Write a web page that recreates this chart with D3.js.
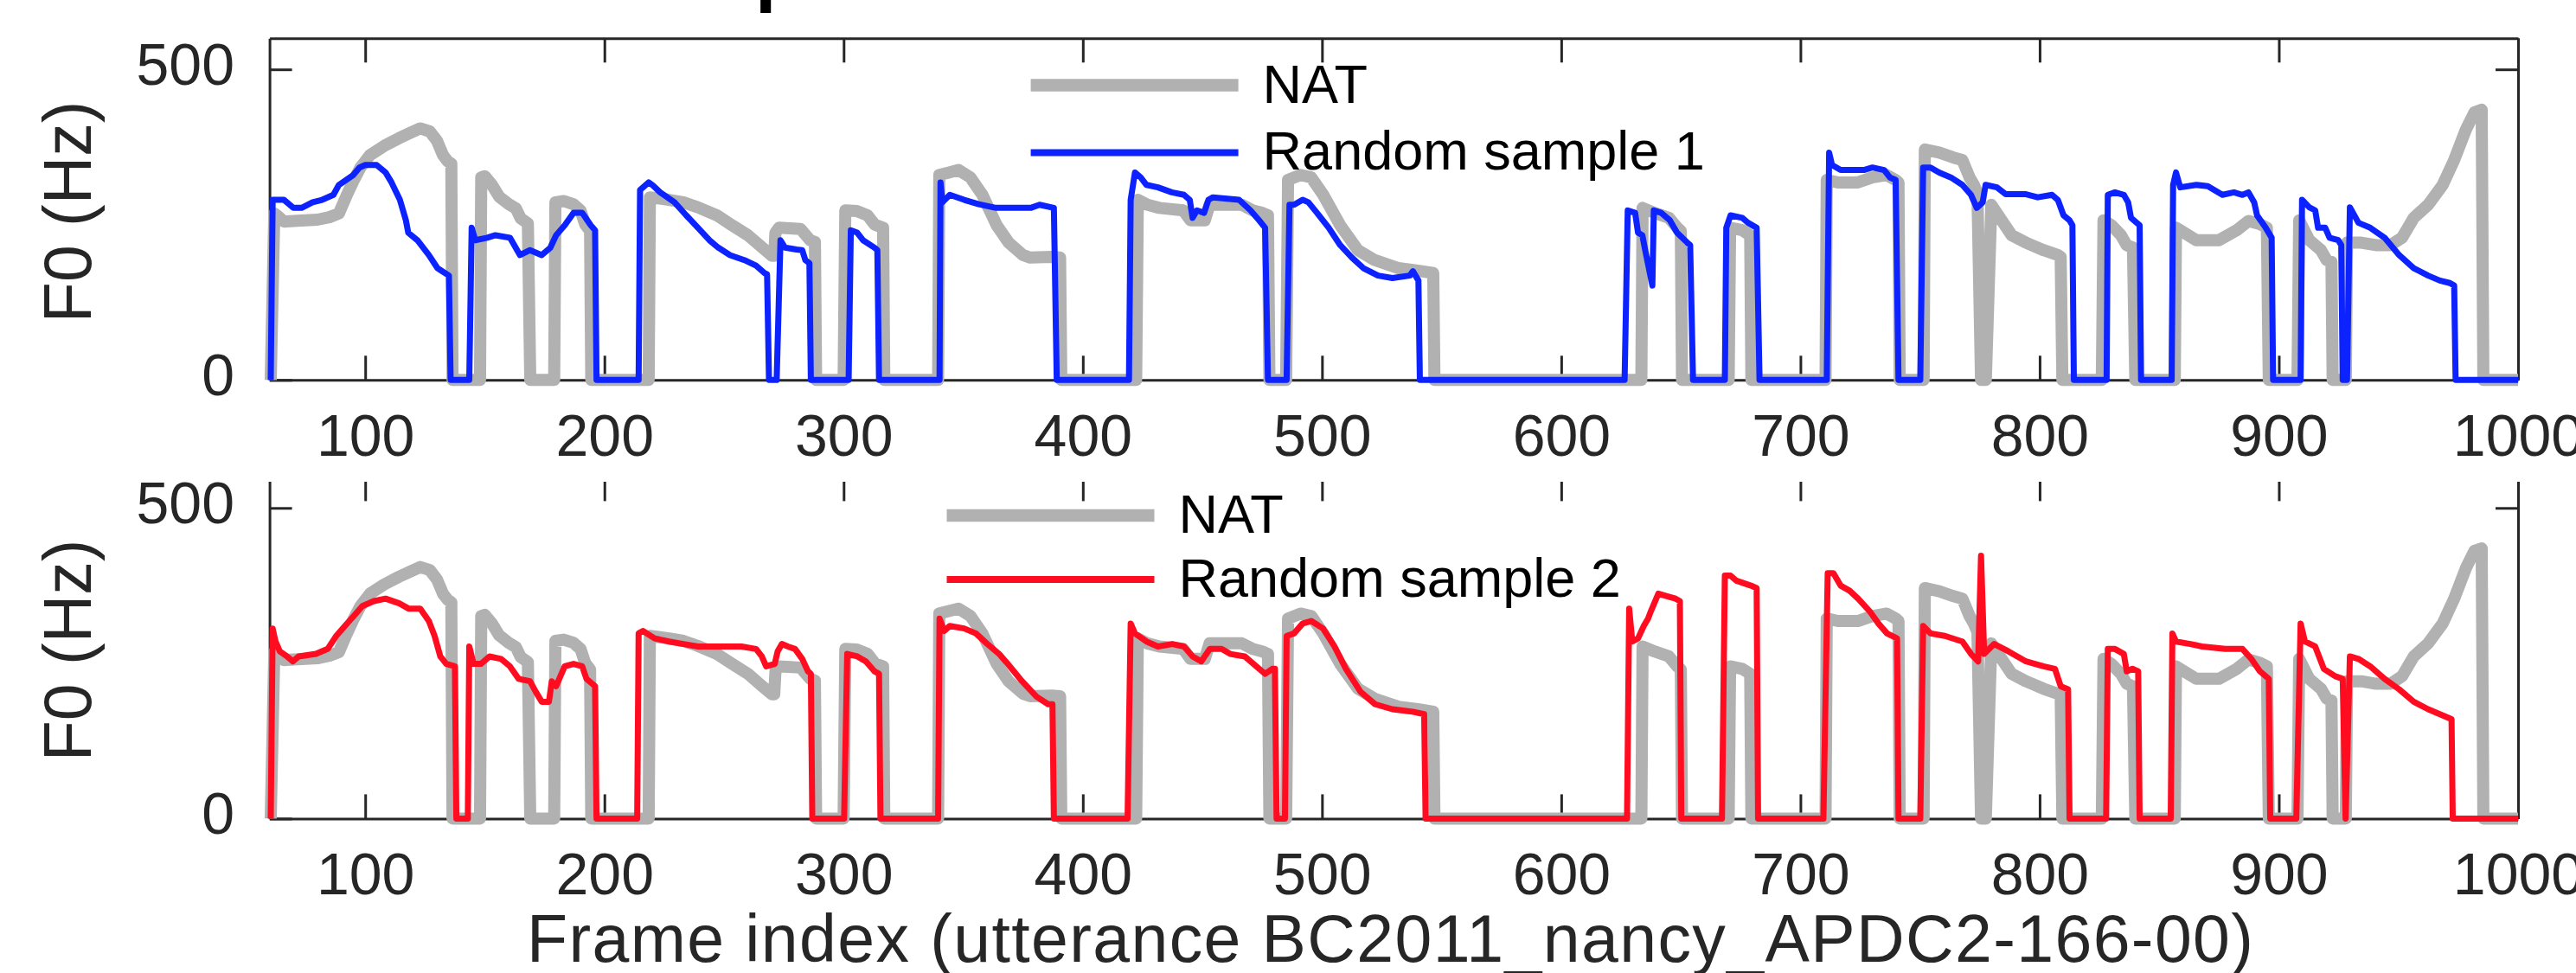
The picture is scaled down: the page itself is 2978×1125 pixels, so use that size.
<!DOCTYPE html>
<html>
<head>
<meta charset="utf-8">
<script src="https://cdnjs.cloudflare.com/ajax/libs/d3/7.8.5/d3.min.js"></script>
<style>
  body { margin: 0; background: #fff; }
  svg { display: block; font-family: "Liberation Sans", Arial, sans-serif; }
</style>
</head>
<body>
<svg id="chart"></svg>
<script>
// ---- data ----
const frameTicks = [100, 200, 300, 400, 500, 600, 700, 800, 900, 1000];
const f0Ticks = [0, 500];
const xLabel = 'Frame index (utterance BC2011_nancy_APDC2-166-00)';
const yLabel = 'F0 (Hz)';

// natural F0 contour [frame, Hz]
const natF0 = [
  [60.5,0],[62,268],[64,262],[66,255],[70,256],[80,258],[85,262],[89,268],[92,295],[95,320],[98,342],[102,362],[108,377],[114,389],[119,398],[123,405],[127,400],[130,385],[132.5,362],[134.5,352],[136,348],[136.5,0],
  [148,0],[148.5,326],[150,328],[153,314],[156,295],[160,283],[163,276],[165,260],[168,252],[169,0],
  [179,0],[179.5,286],[183,288],[187,283],[190,273],[192,250],[194,240],[194.5,0],
  [218.5,0],[219,294],[227,290],[233,286],[239,278],[247,265],[253,250],[260,233],[266,213],[270,200],[271,200],[271.5,237],[273,245],[282,243],[286,225],[288,222],[288.5,0],
  [300,0],[300.7,273],[305.5,272],[310,265],[313,250],[316.5,245],[317,0],
  [339.5,0],[340,330],[344,334],[348,338],[353,326],[358,298],[364,249],[369,221],[375,201],[378,197],[387,198],[390.5,197],[391,0],
  [422.3,0],[423,290],[427,282],[432,277],[442,273],[445,257],[451,257],[453,282],[466.5,282],[471,273],[475,269],[477.4,265],[478,0],
  [485,0],[485.8,322],[491,330],[495.5,326],[500.5,298],[507.6,249],[515,209],[522,193],[532,180],[540,176],[546.5,172],[547,0],
  [633.5,0],[634,277],[639,269],[645,261],[648.5,245],[650,240],[650.5,0],
  [670,0],[670.6,245],[675.7,241],[679,233],[679.5,0],
  [710.5,0],[711,322],[715.6,318],[724,318],[730,326],[736,330],[739.8,322],[741,318],[741.5,0],
  [751.5,0],[752,371],[758,366],[764,358],[767.7,354],[770.7,326],[772.5,314],[774,300],[775.5,0],[777.5,0],[779.8,282],[783.4,261],[788.3,233],[794.3,221],[801.6,209],[807.6,201],[808.8,198],[809.5,0],
  [826,0],[826.7,257],[830,249],[834,233],[836.4,217],[839,213],[840,0],
  [856.5,0],[857,245],[865.5,225],[875,225],[882.4,241],[887.3,256],[892,251],[895,245],[895.8,0],
  [907.8,0],[908.5,257],[912.7,225],[917.6,209],[920,193],[922,190],[922.5,0],
  [928,0],[928.5,221],[934.5,221],[940.6,217],[946.7,217],[951.5,229],[956.4,261],[962.4,282],[968.5,314],[973.3,354],[978.2,403],[981.8,431],[984.8,435],[985.5,0],[1000,0]
];

// random sample 1 [frame, Hz]
const sample1F0 = [
  [60.5,0],[61.3,290],[66,290],[70,277],[73.4,277],[78,286],[82,290],[86.7,298],[89,314],[95,330],[97.6,342],[100,346],[104.8,346],[108.5,334],[111,318],[114.5,290],[117,257],[118,237],[121.8,225],[126.6,201],[130.2,180],[135,168],[135.7,0],
  [143.5,0],[144.5,245],[146,225],[151,229],[154.4,233],[160.5,229],[164.7,201],[168.9,209],[173.8,201],[177.4,213],[179.8,233],[183.4,249],[187.1,269],[190.7,269],[194.3,249],[196.1,241],[196.7,0],
  [214.3,0],[214.9,306],[218.5,318],[220,314],[223.3,302],[229.3,286],[234.2,265],[239.1,245],[243.9,225],[247.6,213],[252.5,201],[258.5,193],[263.4,184],[267,172],[268,170],[268.8,0],
  [272,0],[273.6,225],[275.5,213],[280.3,210],[282.7,209],[284,193],[285.7,188],[286.3,0],
  [302.1,0],[303,241],[305.7,237],[308.1,225],[312.9,213],[314.1,209],[314.8,0],
  [340.1,0],[340.5,318],[341.3,286],[344.4,298],[350.4,290],[356.5,283],[363.7,277],[378.2,277],[381.9,282],[387.9,277],[389.1,0],
  [419.3,0],[420,290],[421.8,334],[424.2,326],[426.6,314],[431.4,310],[437.2,302],[442.3,298],[444.7,290],[445.9,261],[447.7,273],[450.7,269],[452.5,290],[454.4,294],[465.3,290],[470.1,273],[473.7,257],[476.2,245],[477.4,0],
  [485.2,0],[486.4,282],[488.3,282],[491.9,290],[494.3,286],[497.9,269],[502.8,245],[507.6,217],[512.5,197],[517.3,180],[523.4,168],[529.4,164],[536.7,168],[538,175],[540.3,160],[540.9,0],
  [626.5,0],[627.8,273],[630.9,269],[632.1,237],[633.9,233],[635.1,209],[638.1,152],[638.7,273],[641.8,269],[645.4,257],[648.4,237],[652.7,221],[653.9,217],[655.1,0],
  [668.4,0],[669,245],[670.8,265],[675.7,261],[678.1,253],[681.7,245],[682.9,0],
  [711,0],[712,366],[713.2,346],[716.8,338],[726.5,338],[730.1,342],[735,338],[737.4,326],[739.8,322],[741,0],
  [750.1,0],[751.3,342],[754.4,342],[758,334],[762.9,326],[767.7,314],[771.3,298],[773.7,277],[776.2,286],[777.4,314],[782.2,310],[785.8,299],[794.3,299],[799.2,294],[805.2,298],[807.6,290],[810,265],[812.5,257],[813.7,249],[814.3,0],
  [828,0],[828.5,298],[831.5,302],[835.2,298],[837,286],[838.2,261],[840.6,253],[841.8,249],[842.4,0],
  [855.2,0],[855.8,314],[857,334],[858.8,310],[865.5,314],[870.3,312],[876.4,298],[881.2,302],[884.8,298],[887.3,302],[889.7,286],[890.9,265],[894.5,245],[897,229],[897.6,0],
  [909.1,0],[909.7,290],[912.7,278],[915.2,273],[916.4,245],[919.4,245],[921.2,229],[924.8,225],[926.1,217],[926.7,0],[928.5,0],
  [929.7,278],[933.3,253],[938.2,245],[944.2,229],[950.3,201],[956.4,180],[962.4,168],[967.3,160],[971.5,156],[973.3,152],[973.9,0],[1000,0]
];

// random sample 2 [frame, Hz]
const sample2F0 = [
  [60.5,0],[61.3,306],[62.5,285],[64.3,269],[67.3,261],[69.8,253],[72.2,261],[79.4,265],[84.3,273],[87.9,294],[91.5,310],[95.2,326],[98.8,342],[103.6,350],[108.5,354],[114.5,346],[118.1,338],[123,338],[126.6,318],[129,294],[131.4,261],[133.9,249],[137.5,245],[138.1,0],
  [142.9,0],[143.5,277],[145.3,249],[148.4,249],[152,261],[156.8,257],[160.5,245],[164.1,225],[168.9,221],[171.3,204],[173.8,188],[176.8,188],[178,221],[179.8,213],[183.4,245],[187.1,249],[190.7,245],[192.5,225],[196.1,213],[196.7,0],
  [213.7,0],[214.3,298],[216.1,302],[221,290],[227,285],[233,281],[239.1,277],[247.3,277],[257.3,277],[263.4,273],[265.8,261],[267.6,245],[271.2,249],[272.4,269],[274.2,281],[276.7,277],[279.7,273],[282.7,257],[285.1,237],[286.3,233],[286.9,0],
  [300.2,0],[301.5,265],[305.7,261],[309.3,253],[312.9,237],[314.8,233],[315.4,0],
  [339.5,0],[340.1,322],[342,302],[344.4,310],[350.4,306],[355.3,298],[360.1,281],[365,265],[368.6,249],[374.6,221],[380.7,196],[385.5,184],[387.3,184],[387.9,0],
  [418.7,0],[420,314],[421.8,298],[426.6,285],[431.4,277],[437.4,281],[442.3,277],[445.9,261],[449.5,253],[453.1,273],[458,273],[461.6,265],[467.7,261],[472.5,245],[476.2,233],[479.2,241],[480.3,241],[481,0],
  [484.5,0],[485.2,294],[488.3,298],[491.9,314],[495.5,318],[500.4,306],[505.2,277],[510,241],[516.1,204],[522.2,184],[529.4,176],[537.9,172],[542.7,168],[543.3,0],
  [627.5,0],[628.4,338],[629.7,285],[632.1,290],[634.5,310],[636.3,322],[637.5,334],[640.6,362],[644.2,358],[647.8,354],[649.6,350],[650.2,0],
  [667.2,0],[668.4,391],[670.8,391],[673.2,383],[679.3,375],[681.7,371],[682.3,0],
  [709.6,0],[711.4,395],[713.8,395],[716.8,375],[720.5,367],[724.1,354],[728.9,334],[732.6,314],[736.2,298],[740.4,290],[741,0],
  [750.1,0],[751.3,310],[754.4,298],[760.4,294],[767.7,285],[771.3,265],[774.3,253],[775.5,423],[776.8,265],[781,281],[787,269],[794.3,253],[801.6,245],[806.4,241],[808.8,213],[811.9,208],[812.5,0],
  [827.8,0],[828.5,273],[831.5,273],[835.2,265],[836.4,237],[838.8,241],[841.2,237],[841.8,0],
  [854.8,0],[855.5,298],[857,285],[863,281],[867.9,277],[877.6,273],[884.8,273],[888.5,257],[892.1,237],[895.8,225],[896.4,0],
  [907.3,0],[909.1,314],[910.9,285],[915.2,277],[918.8,241],[923.6,229],[926.7,225],[927.9,0],
  [929.7,261],[933.3,257],[938.2,245],[944.2,225],[950.3,208],[956.4,188],[962.4,176],[967.3,168],[972.2,160],[972.7,0],[1000,0]
];

// ---- layout ----
const W = 2978, H = 1125;
const AXIS_COLOR = '#262626';
const NAT_COLOR = '#b1b1b1';
const FONT = '"Liberation Sans", Arial, sans-serif';

const svg = d3.select('#chart').attr('width', W).attr('height', H);

const x = d3.scaleLinear().domain([60, 1000]).range([311.6, 2911]);

const panels = [
  {top: 44.3, bottom: 439.3, clipTop: null, data: sample1F0, color: '#0c22ff',
   name: 'Random sample 1', legend: {x: 1191.6, yNat: 98.5, ySmp: 176.4}},
  {top: 551.4, bottom: 946.4, clipTop: 557, data: sample2F0, color: '#ff0c20',
   name: 'Random sample 2', legend: {x: 1094.5, yNat: 596, ySmp: 670}}
];

// clipped-off title fragment above the first panel
svg.append('text')
  .attr('x', 873).attr('y', -3)
  .attr('font-size', 88).attr('font-weight', 'bold')
  .attr('fill', '#000')
  .text('p');

panels.forEach((p, i) => {
  const y = d3.scaleLinear().domain([0, 550]).range([p.bottom, p.top]);
  const g = svg.append('g');

  // frame and ticks (bottom panel has its top edge hidden)
  let frame = g.append('g');
  if (p.clipTop) {
    svg.append('clipPath').attr('id', 'clip' + i)
      .append('rect').attr('x', 0).attr('y', p.clipTop).attr('width', W).attr('height', H);
    frame.attr('clip-path', `url(#clip${i})`);
  }

  const axB = frame.append('g').attr('transform', `translate(0,${p.bottom})`)
    .call(d3.axisBottom(x).tickValues(frameTicks).tickSize(-28).tickSizeOuter(0)
      .tickFormat(d3.format('d')));
  const axT = frame.append('g').attr('transform', `translate(0,${p.top})`)
    .call(d3.axisTop(x).tickValues(frameTicks).tickSize(-28).tickSizeOuter(0).tickFormat(''));
  const axL = frame.append('g').attr('transform', `translate(${x.range()[0]},0)`)
    .call(d3.axisLeft(y).tickValues(f0Ticks).tickSize(-26).tickSizeOuter(0)
      .tickFormat(d3.format('d')));
  const axR = frame.append('g').attr('transform', `translate(${x.range()[1]},0)`)
    .call(d3.axisRight(y).tickValues(f0Ticks).tickSize(-26).tickSizeOuter(0).tickFormat(''));

  if (p.clipTop) axT.select('.domain').remove();

  [axB, axT, axL, axR].forEach(a => {
    a.selectAll('.domain').attr('stroke', AXIS_COLOR).attr('stroke-width', 3);
    a.selectAll('.tick line').attr('stroke', AXIS_COLOR).attr('stroke-width', 3);
  });

  axB.selectAll('.tick text')
    .attr('y', 88).attr('dy', null)
    .attr('font-size', 68).attr('fill', AXIS_COLOR)
    .attr('font-family', FONT);

  axL.selectAll('.tick text')
    .attr('x', 271 - x.range()[0]).attr('dy', null).attr('y', 17)
    .attr('text-anchor', 'end')
    .attr('font-size', 68).attr('fill', AXIS_COLOR)
    .attr('font-family', FONT);

  // y label
  g.append('text')
    .attr('transform', `translate(105,${(p.top + p.bottom) / 2 + 3}) rotate(-90)`)
    .attr('text-anchor', 'middle')
    .attr('font-size', 77).attr('fill', AXIS_COLOR)
    .text(yLabel);

  // curves
  const line = d3.line().x(d => x(d[0])).y(d => y(d[1]));

  g.append('path').datum(natF0)
    .attr('d', line)
    .attr('fill', 'none').attr('stroke', NAT_COLOR)
    .attr('stroke-width', 14).attr('stroke-linejoin', 'round');

  g.append('path').datum(p.data)
    .attr('d', line)
    .attr('fill', 'none').attr('stroke', p.color)
    .attr('stroke-width', 7).attr('stroke-linejoin', 'round');

  // legend
  const lg = g.append('g');
  const items = [
    {name: 'NAT', color: NAT_COLOR, w: 14.5, y: p.legend.yNat},
    {name: p.name, color: p.color, w: 8, y: p.legend.ySmp}
  ];
  items.forEach(it => {
    lg.append('line')
      .attr('x1', p.legend.x).attr('x2', p.legend.x + 240)
      .attr('y1', it.y).attr('y2', it.y)
      .attr('stroke', it.color).attr('stroke-width', it.w);
    lg.append('text')
      .attr('x', p.legend.x + 268).attr('y', it.y + 20)
      .attr('font-size', 63).attr('fill', '#000')
      .text(it.name);
  });
});

// x label
svg.append('text')
  .attr('x', 609).attr('y', 1112)
  .attr('font-size', 77).attr('fill', AXIS_COLOR)
  .attr('textLength', 1996).attr('lengthAdjust', 'spacing')
  .text(xLabel);
</script>
</body>
</html>
